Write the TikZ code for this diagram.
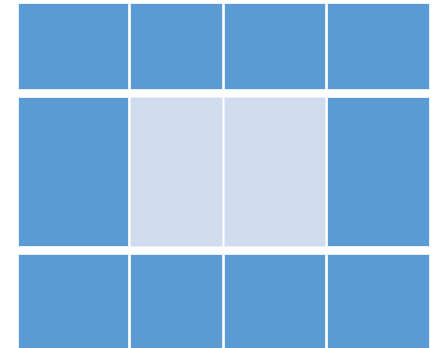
\documentclass[tikz,border=0pt]{standalone}
\usepackage{tikz}
\definecolor{cellblue}{RGB}{91,155,213}
\definecolor{celllight}{RGB}{209,219,238}
\tikzset{
  cell/.style={fill=cellblue,draw=white!85!cellblue,line width=0.5pt},
  cellpale/.style={cell,fill=celllight}
}
\begin{document}
\begin{tikzpicture}[x=1pt,y=-1pt]
\useasboundingbox (0,0) rectangle (434,348);
% row 1
\foreach \a/\b in {18/128,130/222,224/325,327/429}{
  \draw[cell] (\a,3) rectangle (\b,89);
}
% row 2, middle cells pale
\draw[cell] (18,97) rectangle (128,246);
\foreach \a/\b in {130/222,224/325}{
  \draw[cellpale] (\a,97) rectangle (\b,246);
}
\draw[cell] (327,97) rectangle (429,246);
% row 3
\foreach \a/\b in {18/128,130/222,224/325,327/429}{
  \draw[cell] (\a,254) rectangle (\b,348.5);
}
\end{tikzpicture}
\end{document}
